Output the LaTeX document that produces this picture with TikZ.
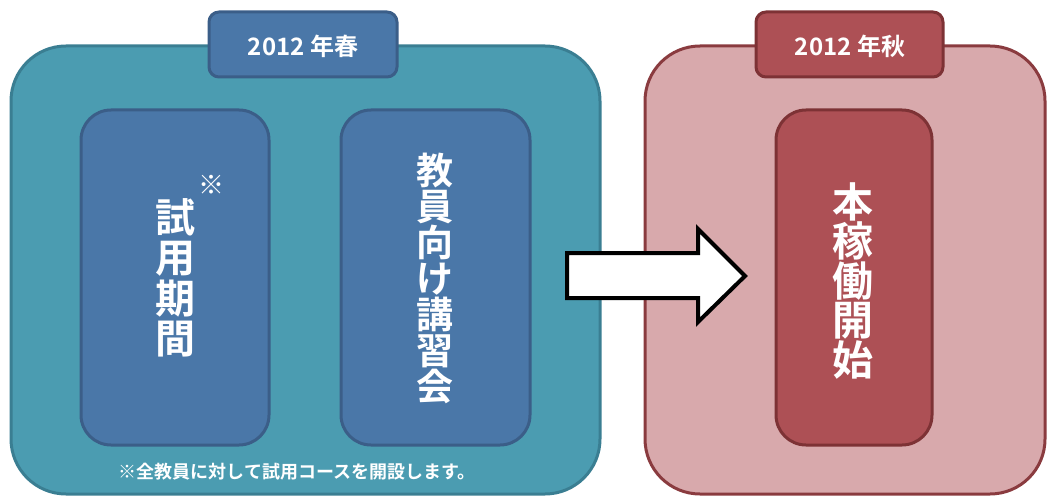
\documentclass[tikz,border=0pt]{standalone}
\usepackage{fontspec}
\newfontfamily\cjk{Noto Sans CJK JP}[BoldFont={Noto Sans CJK JP Bold}]
\definecolor{tealfill}{HTML}{4B9CB1}
\definecolor{tealline}{HTML}{3A7E92}
\definecolor{bluefill}{HTML}{4A77A8}
\definecolor{blueline}{HTML}{3B5E88}
\definecolor{pinkfill}{HTML}{D8A9AC}
\definecolor{pinkline}{HTML}{8A3B3F}
\definecolor{redfill}{HTML}{AD5055}
\definecolor{redline}{HTML}{7D3235}
\tikzset{
  bigbox/.style={rounded corners=55pt, line width=3pt},
  labelbox/.style={rounded corners=10pt, line width=3pt},
  innerbox/.style={rounded corners=30pt, line width=3pt},
  vtext/.style={text=white, align=center, inner sep=0pt},
  lbltext/.style={text=white, font=\cjk\bfseries\fontsize{24}{26}\selectfont, inner sep=0pt},
}
\begin{document}
\begin{tikzpicture}[x=1pt,y=-1pt]
\useasboundingbox (0,0) rectangle (1048,497);
% left group
\draw[bigbox, fill=tealfill, draw=tealline] (11,46) rectangle (600,494);
\draw[labelbox, fill=bluefill, draw=blueline] (209,12) rectangle (397,77);
\node[lbltext] (spring) at (303,46) {2012 年春};
\draw[innerbox, fill=bluefill, draw=blueline] (81,110) rectangle (269,445);
\draw[innerbox, fill=bluefill, draw=blueline] (341,110) rectangle (530,445);
\node[vtext, font=\cjk\bfseries\fontsize{40}{40.5}\selectfont] (trial) at (175,278) {試\\用\\期\\間};
\node[text=white, font=\cjk\fontsize{26}{28}\selectfont, inner sep=0pt] (mark) at (211,185) {※};
\node[vtext, font=\cjk\bfseries\fontsize{37}{36}\selectfont] (course) at (435,278) {教\\員\\向\\け\\講\\習\\会};
\node[text=white, font=\cjk\bfseries\fontsize{18}{20}\selectfont, inner sep=0pt] (note) at (297,472) {※全教員に対して試用コースを開設します。};
% right group
\draw[bigbox, fill=pinkfill, draw=pinkline] (645,46) rectangle (1045,494);
\draw[labelbox, fill=redfill, draw=redline] (756,12) rectangle (943,77);
\node[lbltext] (autumn) at (850,46) {2012 年秋};
\draw[innerbox, fill=redfill, draw=redline] (776,110) rectangle (932,445);
\node[vtext, font=\cjk\bfseries\fontsize{41}{39.5}\selectfont] (start) at (853,281) {本\\稼\\働\\開\\始};
% block arrow
\draw[line width=4pt, fill=white, draw=black, line join=miter]
  (567,253) -- (698,253) -- (698,229) -- (745,276) -- (698,322) -- (698,298) -- (567,298) -- cycle;
\end{tikzpicture}
\end{document}
